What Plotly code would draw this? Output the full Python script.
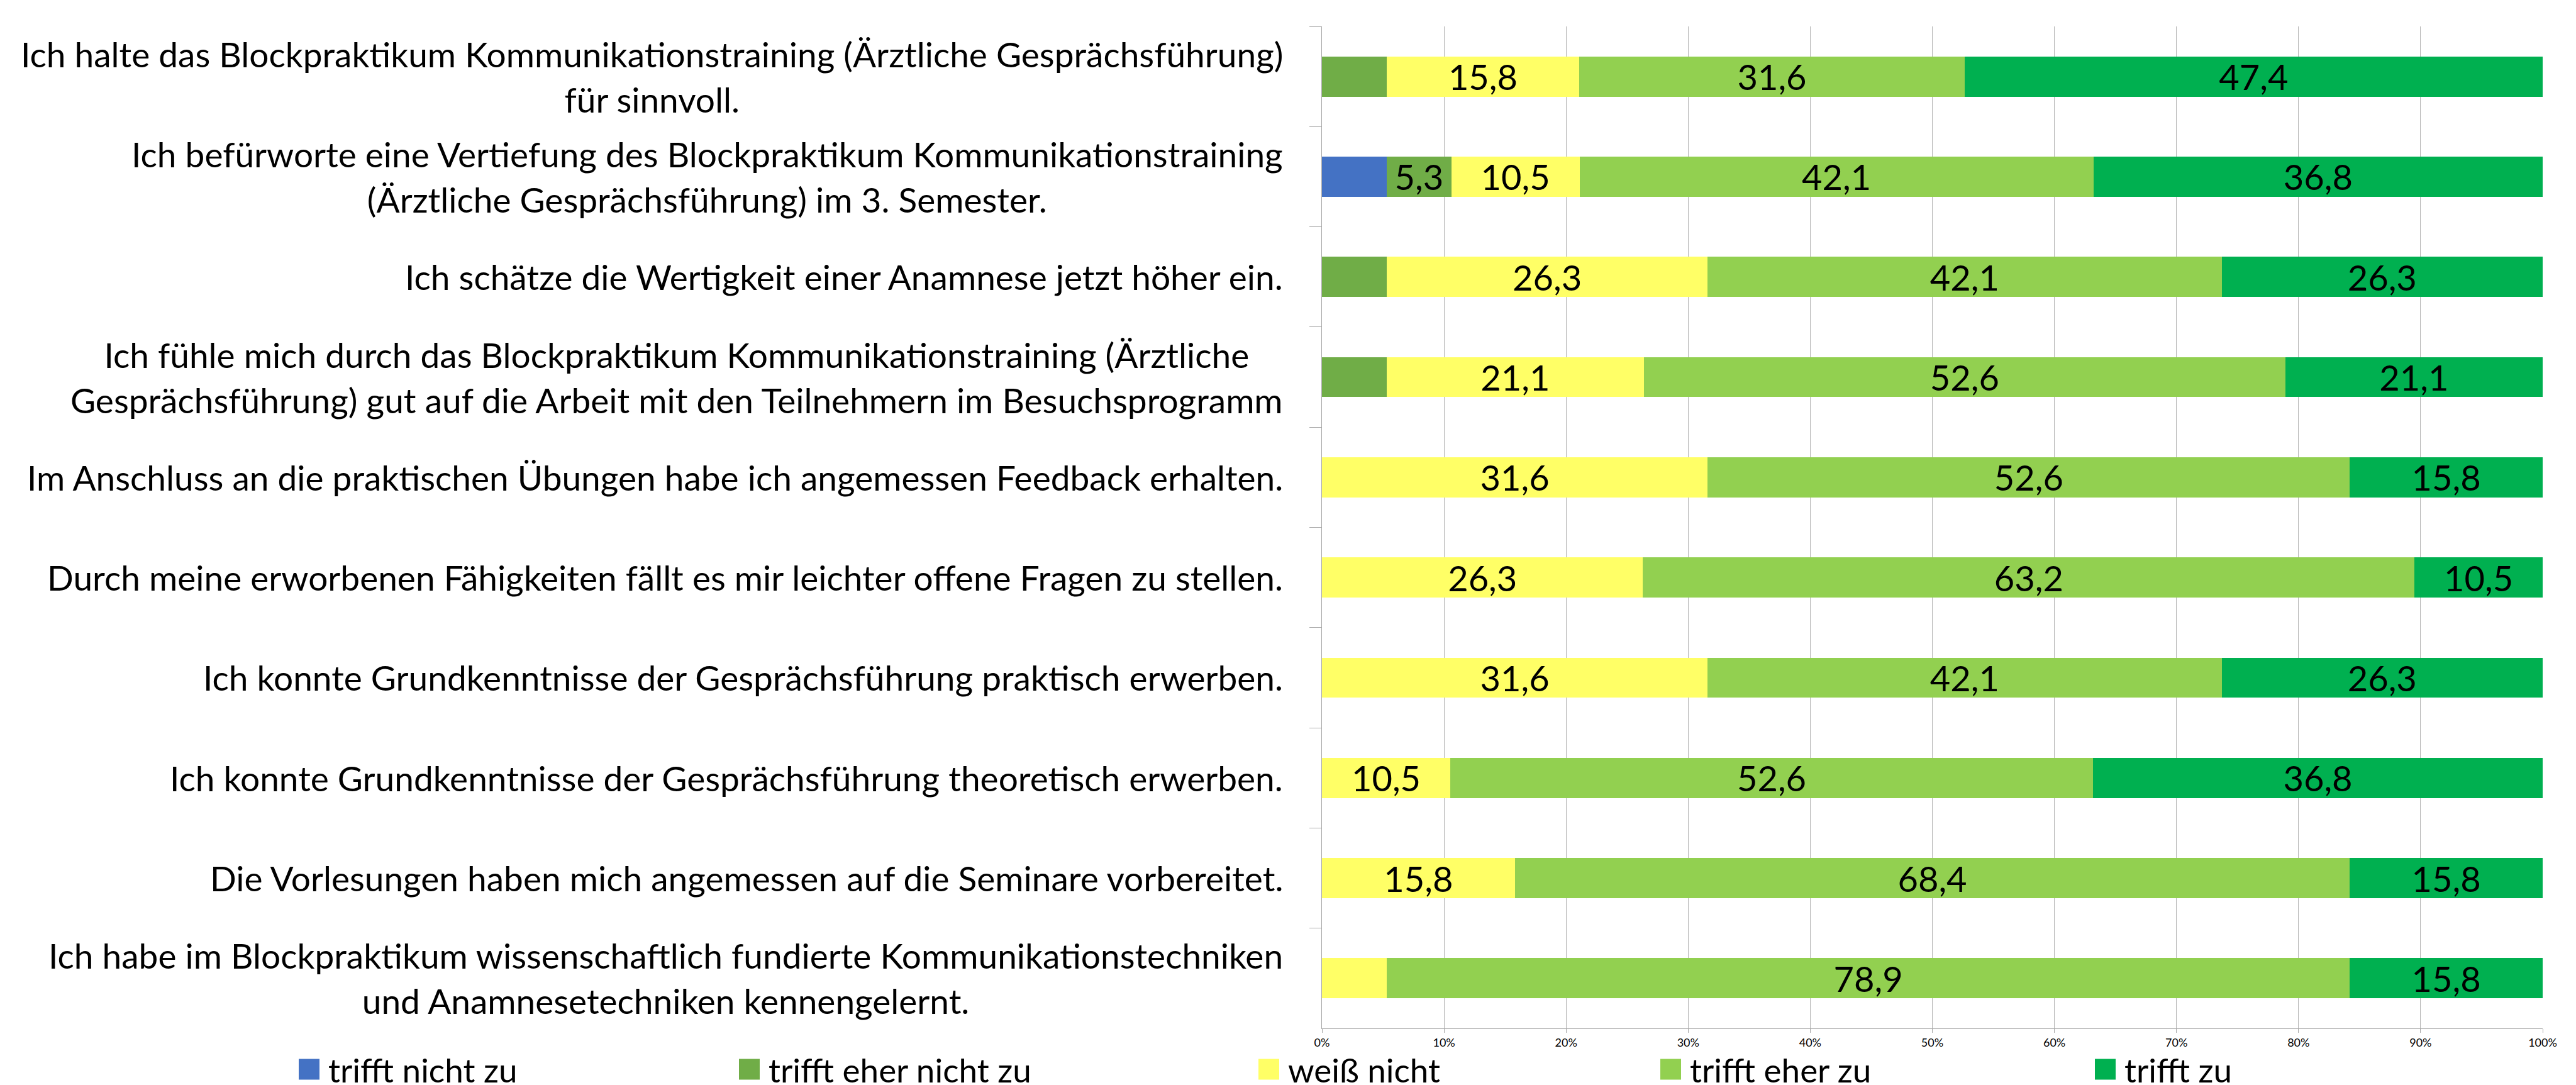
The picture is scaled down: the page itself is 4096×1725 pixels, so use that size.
import plotly.graph_objects as go

# ---------------- data ----------------
categories = [
    "Ich halte das Blockpraktikum Kommunikationstraining (Ärztliche Gesprächsführung)<br>für sinnvoll.",
    "Ich befürworte eine Vertiefung des Blockpraktikum Kommunikationstraining<br>(Ärztliche Gesprächsführung) im 3. Semester.",
    "Ich schätze die Wertigkeit einer Anamnese jetzt höher ein.",
    "Ich fühle mich durch das Blockpraktikum Kommunikationstraining (Ärztliche<br>Gesprächsführung) gut auf die Arbeit mit den Teilnehmern im Besuchsprogramm",
    "Im Anschluss an die praktischen Übungen habe ich angemessen Feedback erhalten.",
    "Durch meine erworbenen Fähigkeiten fällt es mir leichter offene Fragen zu stellen.",
    "Ich konnte Grundkenntnisse der Gesprächsführung praktisch erwerben.",
    "Ich konnte Grundkenntnisse der Gesprächsführung theoretisch erwerben.",
    "Die Vorlesungen haben mich angemessen auf die Seminare vorbereitet.",
    "Ich habe im Blockpraktikum wissenschaftlich fundierte Kommunikationstechniken<br>und Anamnesetechniken kennengelernt.",
]

series_names = ["trifft nicht zu", "trifft eher nicht zu", "weiß nicht", "trifft eher zu", "trifft zu"]
series_colors = ["#4472C4", "#70AD47", "#FFFF66", "#92D050", "#00B050"]

trifft_nicht_zu      = [0.0, 5.3, 0.0, 0.0, 0.0, 0.0, 0.0, 0.0, 0.0, 0.0]
trifft_eher_nicht_zu = [5.3, 5.3, 5.3, 5.3, 0.0, 0.0, 0.0, 0.0, 0.0, 0.0]
weiss_nicht          = [15.8, 10.5, 26.3, 21.1, 31.6, 26.3, 31.6, 10.5, 15.8, 5.3]
trifft_eher_zu       = [31.6, 42.1, 42.1, 52.6, 52.6, 63.2, 42.1, 52.6, 68.4, 78.9]
trifft_zu            = [47.4, 36.8, 26.3, 21.1, 15.8, 10.5, 26.3, 36.8, 15.8, 15.8]

# segments whose data label is not shown in the original (series index, row index)
unlabelled = [(0, 1), (1, 0), (1, 2), (1, 3), (2, 9)]

tick_values = [0, 10, 20, 30, 40, 50, 60, 70, 80, 90, 100]
tick_labels = ["0%", "10%", "20%", "30%", "40%", "50%", "60%", "70%", "80%", "90%", "100%"]

series_values = [trifft_nicht_zu, trifft_eher_nicht_zu, weiss_nicht, trifft_eher_zu, trifft_zu]

# ---------------- layout constants ----------------
W, H = 4096, 1725
ML, MR, MT, MB = 2094, 61, 34, 98
PW, PH = W - ML - MR, H - MT - MB
FONT = "Lato"
LABEL_SIZE = 55
LINE_GAP = 72
LEGEND_SIZE = 53
DATA_SIZE = 56
TICK_SIZE = 18


def fmt(v):
    return ("%.1f" % v).replace(".", ",")


fig = go.Figure()
for si, (name, color, vals) in enumerate(zip(series_names, series_colors, series_values)):
    texts = []
    for ri, v in enumerate(vals):
        if v == 0 or (si, ri) in unlabelled:
            texts.append("")
        else:
            texts.append(fmt(v))
    fig.add_trace(go.Bar(
        name=name,
        orientation="h",
        x=vals,
        y=categories,
        marker=dict(color=color, line=dict(width=0)),
        text=texts,
        textposition="inside",
        insidetextanchor="middle",
        textangle=0,
        constraintext="none",
        textfont=dict(family=FONT, size=DATA_SIZE, color="#000000"),
        insidetextfont=dict(family=FONT, size=DATA_SIZE, color="#000000"),
        hoverinfo="skip",
        showlegend=False,
    ))

annotations = []
# category labels (centered lines, block right-aligned next to the axis)
span_open = '<span style="font-size:%dpx">' % LABEL_SIZE
for i, cat in enumerate(categories):
    annotations.append(dict(
        xref="paper", yref="y", x=0, y=i,
        xanchor="right", yanchor="middle", xshift=-60,
        align="center", showarrow=False,
        text=span_open + cat.replace("<br>", "</span><br>" + span_open) + "</span>",
        font=dict(family=FONT, size=LINE_GAP / 1.3, color="#000000"),
    ))

# legend (swatch squares + text)
legend_left_px = [467, 1167, 1993, 2632, 3323]
SW = 33
LEG_CY = 1692
shapes = []
for name, color, lx in zip(series_names, series_colors, legend_left_px):
    x0 = (lx - ML) / PW
    x1 = (lx + SW - ML) / PW
    y0 = (H - MB - (LEG_CY + SW / 2)) / PH
    y1 = (H - MB - (LEG_CY - SW / 2)) / PH
    shapes.append(dict(type="rect", xref="paper", yref="paper", x0=x0, x1=x1, y0=y0, y1=y1,
                       fillcolor=color, line=dict(width=0), layer="above"))
    annotations.append(dict(
        xref="paper", yref="paper", x=(lx + SW + 12 - ML) / PW, y=(H - MB - LEG_CY) / PH,
        xanchor="left", yanchor="middle", showarrow=False, text=name,
        font=dict(family=FONT, size=LEGEND_SIZE, color="#000000"),
    ))

fig.update_layout(
    width=W, height=H,
    margin=dict(l=ML, r=MR, t=MT, b=MB, pad=0),
    paper_bgcolor="white", plot_bgcolor="white",
    barmode="stack", barnorm="percent", bargap=0.6,
    font=dict(family=FONT, color="#000000"),
    annotations=annotations,
    shapes=shapes,
    showlegend=False,
    xaxis=dict(
        range=[0, 100], tickvals=tick_values, ticktext=tick_labels,
        showgrid=True, gridcolor="#B4B4B4", gridwidth=1,
        showline=True, linecolor="#A6A6A6", linewidth=1,
        ticks="outside", ticklen=6, tickcolor="#A6A6A6", tickwidth=1,
        zeroline=False, tickfont=dict(family=FONT, size=TICK_SIZE, color="#000000"),
        fixedrange=True,
    ),
    yaxis=dict(
        type="category", categoryorder="array", categoryarray=categories,
        autorange="reversed",
        showgrid=False, showline=True, linecolor="#A6A6A6", linewidth=1,
        ticks="outside", tickson="boundaries", ticklen=19, tickcolor="#A6A6A6", tickwidth=1,
        showticklabels=False, zeroline=False, fixedrange=True,
    ),
)

fig.write_html("out.html")
